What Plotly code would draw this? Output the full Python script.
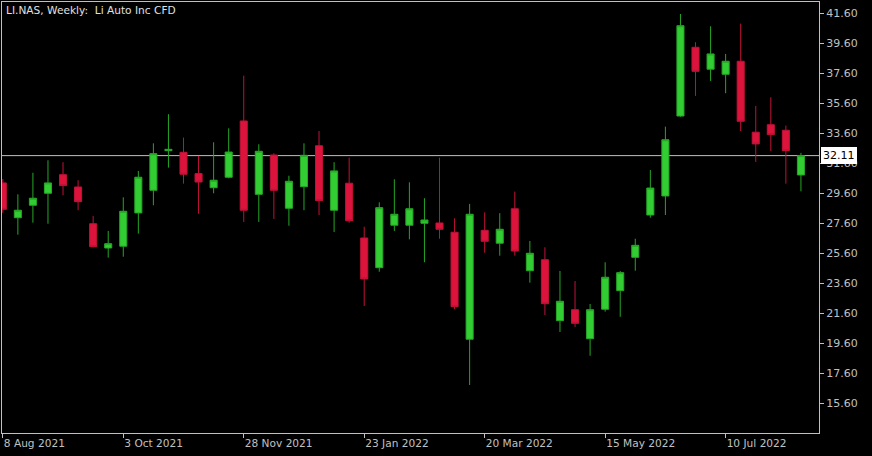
import pandas as pd
import plotly.graph_objects as go

# Weekly OHLC data, LI.NAS (Li Auto Inc CFD), week starting 8 Aug 2021
start_date = "2021-08-08"
opens = [30.29, 27.97, 28.80, 29.60, 30.84, 30.02, 27.57, 25.95, 26.07, 28.29,
         29.80, 32.44, 32.33, 30.91, 29.97, 30.67, 34.42, 29.53, 32.15, 28.60,
         30.04, 32.77, 28.47, 30.27, 26.62, 24.64, 27.47, 27.47, 27.60, 27.62,
         27.00, 19.87, 27.13, 26.27, 28.57, 24.44, 25.17, 21.11, 21.84, 19.91,
         21.87, 23.11, 25.33, 28.15, 29.42, 34.75, 39.33, 37.87, 37.53, 38.40,
         33.67, 34.17, 33.80, 30.82]
highs = [30.55, 29.53, 30.97, 31.80, 31.67, 30.47, 28.09, 27.09, 29.33, 31.09,
         32.93, 34.87, 33.31, 32.09, 33.00, 33.93, 37.44, 32.87, 32.27, 30.77,
         32.93, 33.75, 31.67, 31.97, 27.37, 29.00, 30.53, 30.33, 29.27, 31.97,
         27.93, 28.89, 28.33, 28.27, 29.71, 26.42, 26.00, 24.42, 23.75, 22.22,
         25.00, 24.42, 26.57, 31.15, 34.04, 41.55, 39.67, 40.73, 38.89, 40.91,
         35.42, 36.00, 34.11, 32.29]
lows = [28.30, 26.84, 27.64, 27.57, 29.47, 28.47, 26.00, 25.31, 25.37, 26.91,
        28.80, 31.31, 30.24, 28.24, 29.60, 30.60, 27.69, 27.69, 27.89, 27.44,
        28.47, 28.15, 27.02, 27.64, 22.09, 24.37, 27.09, 26.53, 25.00, 26.57,
        21.87, 16.82, 25.64, 25.44, 25.44, 23.64, 21.49, 20.35, 20.69, 18.77,
        21.71, 21.37, 24.44, 27.97, 28.15, 34.70, 36.09, 37.09, 36.27, 33.75,
        31.69, 32.42, 30.24, 29.73]
closes = [28.53, 28.47, 29.27, 30.29, 30.11, 29.04, 26.04, 26.24, 28.40, 30.67,
          32.24, 32.53, 30.87, 30.35, 30.47, 32.35, 28.47, 32.40, 29.80, 30.40,
          32.13, 29.11, 31.09, 27.77, 23.89, 28.64, 28.20, 28.57, 27.82, 27.20,
          22.04, 28.20, 26.40, 27.20, 25.75, 25.60, 22.24, 22.40, 20.93, 21.84,
          24.00, 24.31, 26.13, 29.95, 33.17, 40.77, 37.73, 38.89, 38.40, 34.40,
          32.89, 33.51, 32.44, 32.11]

price_ticks = [15.60, 17.60, 19.60, 21.60, 23.60, 25.60, 27.60, 29.60,
               31.60, 33.60, 35.60, 37.60, 39.60, 41.60]
date_tick_labels = ["8 Aug 2021", "3 Oct 2021", "28 Nov 2021", "23 Jan 2022",
                    "20 Mar 2022", "15 May 2022", "10 Jul 2022"]
last_price = 32.11
title_text = "LI.NAS, Weekly:\u00a0\u00a0Li Auto Inc CFD"

dates = pd.date_range(start_date, periods=len(opens), freq="7D")
date_tick_vals = [pd.Timestamp(start_date) + pd.Timedelta(weeks=8 * k)
                  for k in range(len(date_tick_labels))]

x_lo = pd.Timestamp(start_date) - pd.Timedelta(days=0.37)
x_hi = pd.Timestamp(start_date) + pd.Timedelta(days=7 * 54.2)

axis_col = "#c0c0c0"
font_fam = "DejaVu Sans"

fig = go.Figure(go.Candlestick(
    x=dates, open=opens, high=highs, low=lows, close=closes,
    increasing=dict(fillcolor="#32cd32", line=dict(color="#26a626", width=1)),
    decreasing=dict(fillcolor="#dc143c", line=dict(color="#c01238", width=1)),
    whiskerwidth=0, showlegend=False, hoverinfo="skip",
))

fig.add_shape(type="line", xref="paper", x0=0, x1=1, yref="y",
              y0=last_price, y1=last_price,
              line=dict(color=axis_col, width=1), layer="below")

fig.add_annotation(xref="paper", x=1, xanchor="left", xshift=2,
                   yref="y", y=last_price, yanchor="middle",
                   text=f"{last_price:.2f}", showarrow=False,
                   bgcolor="white", borderpad=2, borderwidth=0,
                   font=dict(family=font_fam, size=11, color="black"))

fig.add_annotation(xref="paper", x=0, xanchor="left", xshift=2,
                   yref="paper", y=1, yanchor="top", yshift=0,
                   text=title_text, showarrow=False,
                   font=dict(family=font_fam, size=10.6, color="#e0e0e0"))

fig.update_layout(
    width=872, height=456, autosize=False,
    paper_bgcolor="black", plot_bgcolor="black",
    margin=dict(l=2, r=53, t=2, b=23),
    boxgap=0.33,
    xaxis=dict(
        type="date", range=[x_lo, x_hi], automargin=False,
        rangeslider=dict(visible=False),
        tickvals=date_tick_vals, ticktext=date_tick_labels,
        ticks="outside", ticklen=4, tickcolor=axis_col, tickwidth=1,
        ticklabelposition="outside right",
        tickfont=dict(family=font_fam, size=10.6, color=axis_col),
        showline=True, linecolor=axis_col, linewidth=1, mirror=True,
        showgrid=False, zeroline=False,
    ),
    yaxis=dict(
        side="right", range=[13.62, 42.35], automargin=False,
        tickvals=price_ticks, ticktext=[f"{v:.2f}" for v in price_ticks],
        ticks="outside", ticklen=4, tickcolor=axis_col, tickwidth=1,
        tickfont=dict(family=font_fam, size=11, color=axis_col),
        showline=True, linecolor=axis_col, linewidth=1, mirror=True,
        showgrid=False, zeroline=False,
    ),
)

fig.write_html(
    "out.html",
    config={"displayModeBar": False, "staticPlot": True},
    post_script="document.body.style.margin='0';document.body.style.background='black';",
)
